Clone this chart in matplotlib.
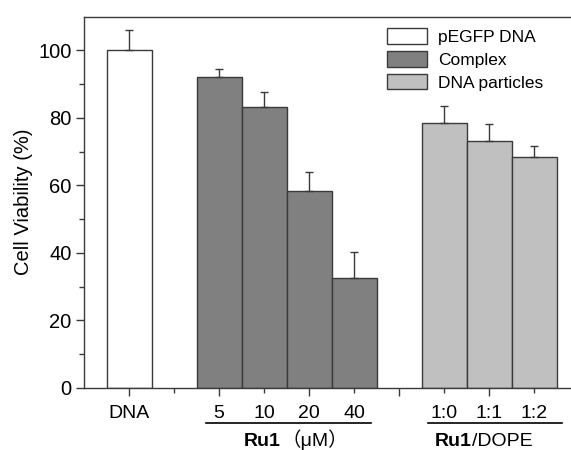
import matplotlib
matplotlib.use("Agg")
import matplotlib.pyplot as plt
from matplotlib.patches import Patch
from matplotlib.ticker import FixedLocator, NullFormatter
import matplotlib.transforms as mtransforms

plt.rcParams['font.family'] = ['Liberation Sans', 'Noto Sans CJK SC', 'DejaVu Sans']

# ---- data ----
dna_label = ["DNA"]
dna_values = [100.0]
dna_err = [6.2]

complex_labels = ["5", "10", "20", "40"]
complex_values = [92.2, 83.2, 58.2, 32.5]
complex_err = [2.2, 4.5, 5.7, 7.6]

particle_labels = ["1:0", "1:1", "1:2"]
particle_values = [78.5, 73.1, 68.3]
particle_err = [5.0, 5.2, 3.3]

legend_labels = ["pEGFP DNA", "Complex", "DNA particles"]
y_ticks = [0, 20, 40, 60, 80, 100]

# positions (category slots)
dna_pos = [1]
complex_pos = [3, 4, 5, 6]
particle_pos = [8, 9, 10]

edge = '#3a3a3a'
colors = ['#ffffff', '#808080', '#c0c0c0']

fig = plt.figure(figsize=(5.71, 4.5), dpi=100)
ax = fig.add_axes([84/571, 1-387.7/450, 495/571, (387.7-16.7)/450])

groups = [(dna_pos, dna_values, dna_err, colors[0]),
          (complex_pos, complex_values, complex_err, colors[1]),
          (particle_pos, particle_values, particle_err, colors[2])]
for pos, vals, err, c in groups:
    ax.bar(pos, vals, width=1.0, color=c, edgecolor=edge, linewidth=1.0, zorder=2)
    ax.errorbar(pos, vals, yerr=[[0]*len(vals), err], fmt='none', ecolor=edge,
                elinewidth=1.0, capsize=3, capthick=1.0, zorder=3)

ax.set_xlim(0, 11)
ax.set_ylim(0, 110)

for s in ['left', 'bottom', 'top', 'right']:
    ax.spines[s].set_color(edge)
    ax.spines[s].set_linewidth(1.0)

ax.set_yticks(y_ticks)
ax.yaxis.set_minor_locator(FixedLocator([10, 30, 50, 70, 90]))
ax.xaxis.set_major_locator(FixedLocator([1, 3, 5, 7, 9]))
ax.xaxis.set_minor_locator(FixedLocator([2, 4, 6, 8, 10]))
ax.xaxis.set_major_formatter(NullFormatter())
ax.tick_params(axis='both', which='major', direction='out', length=6, width=1.0, color=edge)
ax.tick_params(axis='both', which='minor', direction='out', length=3.5, width=1.0, color=edge)
ax.tick_params(axis='y', labelsize=14.5, pad=3)
ax.tick_params(top=False, right=False, which='both')

ax.set_ylabel("Cell Viability (%)", fontsize=14.5, labelpad=4)

trans = mtransforms.blended_transform_factory(ax.transData, ax.transAxes)
label_y = -(418.3 - 387.7) / 371
for pos, labs in [(dna_pos, dna_label), (complex_pos, complex_labels), (particle_pos, particle_labels)]:
    for p, l in zip(pos, labs):
        ax.text(p, label_y, l, transform=trans, ha='center', va='baseline', fontsize=14)

line_y = -(422.7 - 387.7) / 371
ax.plot([2.71, 6.38], [line_y, line_y], transform=trans, color='black', lw=1.2, clip_on=False)
ax.plot([7.64, 10.62], [line_y, line_y], transform=trans, color='black', lw=1.2, clip_on=False)

group_y = -(446 - 387.7) / 371
ax.text(4.38, group_y, "Ru1", transform=trans, ha='right', va='baseline', fontsize=14, fontweight='bold')
ax.text(4.39, group_y, "（μM）", transform=trans, ha='left', va='baseline', fontsize=14)
ax.text(8.62, group_y, "Ru1", transform=trans, ha='right', va='baseline', fontsize=14, fontweight='bold')
ax.text(8.625, group_y, "/DOPE", transform=trans, ha='left', va='baseline', fontsize=14)

handles = [Patch(facecolor=c, edgecolor=edge, linewidth=1.0) for c in colors]
ax.legend(handles, legend_labels, loc='upper left', bbox_to_anchor=(0.592, 0.997),
          frameon=False, fontsize=12.5, handlelength=2.3, handleheight=1.0,
          labelspacing=0.35, handletextpad=0.6, borderaxespad=0.2)

fig.savefig("out.png", dpi=100)
